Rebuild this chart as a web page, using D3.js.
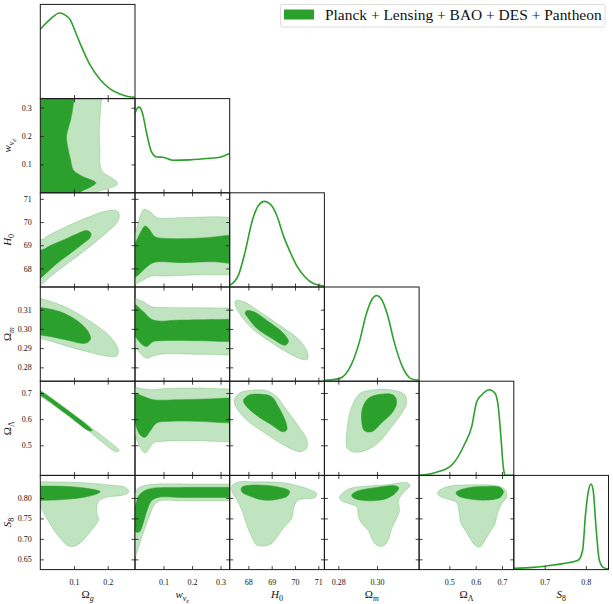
<!DOCTYPE html>
<head>
  <meta charset="utf-8">
  <script src="https://cdn.jsdelivr.net/npm/d3@7"></script>
</head>

<style>
  body { margin: 0; background: #fff; }
  text { font-family: "Liberation Serif", "DejaVu Serif", serif; fill: #111; }
</style>
<body>
<script>

// ---- parameters, axis domains and ticks
var params = ["omega_g", "w_nu", "H0", "omega_m", "omega_L", "S8"];
var ranges = [[0, 0.281], [0, 0.332], [67.2, 71.26], [0.2728, 0.3218], [0.385, 0.745], [0.625, 0.855]];
var xTicks = [[0.1, 0.2], [0.1, 0.2, 0.3], [68, 69, 70, 71], [0.28, 0.30], [0.5, 0.6, 0.7], [0.7, 0.8]];
var xTickText = [["0.1", "0.2"], ["0.1", "0.2", "0.3"], ["68", "69", "70", "71"], ["0.28", "0.30"], ["0.5", "0.6", "0.7"], ["0.7", "0.8"]];
var yTicks = [[], [0.1, 0.2, 0.3], [68, 69, 70, 71], [0.28, 0.29, 0.30, 0.31], [0.5, 0.6, 0.7], [0.65, 0.70, 0.75, 0.80]];
var yTickText = [[], ["0.1", "0.2", "0.3"], ["68", "69", "70", "71"], ["0.28", "0.29", "0.30", "0.31"], ["0.5", "0.6", "0.7"], ["0.65", "0.70", "0.75", "0.80"]];
var legendLabel = "Planck + Lensing + BAO + DES + Pantheon";

// ---- 1D marginals [value, density/max]
var margOg = [[0, 0.81], [0.029, 0.925], [0.057, 1.0], [0.074, 0.975], [0.089, 0.92], [0.104, 0.78], [0.118, 0.645], [0.148, 0.39], [0.178, 0.22], [0.208, 0.11], [0.238, 0.05], [0.26, 0.025], [0.281, 0.015]];
var margWnu = [[0, 0.928], [0.008, 0.99], [0.015, 1.0], [0.025, 0.944], [0.041, 0.693], [0.058, 0.477], [0.076, 0.418], [0.098, 0.415], [0.133, 0.38], [0.192, 0.385], [0.262, 0.403], [0.297, 0.415], [0.332, 0.458]];
var margH0 = [[67.2, 0.02], [67.57, 0.136], [67.86, 0.41], [68.15, 0.757], [68.43, 0.952], [68.69, 1.0], [68.93, 0.97], [69.22, 0.835], [69.5, 0.60], [69.79, 0.41], [70.07, 0.25], [70.43, 0.117], [70.79, 0.04], [71.26, 0.01]];
var margOm = [[0.2728, 0.01], [0.2805, 0.03], [0.2866, 0.187], [0.2909, 0.459], [0.2943, 0.77], [0.2977, 0.965], [0.2998, 1.0], [0.3021, 0.965], [0.3055, 0.77], [0.3089, 0.459], [0.3132, 0.167], [0.3176, 0.03], [0.3218, 0.01]];
var margOL = [[0.385, 0], [0.445, 0.032], [0.509, 0.121], [0.5595, 0.375], [0.585, 0.569], [0.604, 0.861], [0.623, 0.939], [0.652, 1.0], [0.6735, 0.959], [0.686, 0.80], [0.696, 0.452], [0.705, 0.10], [0.711, 0.005], [0.745, 0]];
var margS8 = [[0.625, 0.014], [0.672, 0.026], [0.721, 0.053], [0.745, 0.07], [0.781, 0.108], [0.7923, 0.229], [0.7987, 0.618], [0.8065, 0.925], [0.8125, 1.0], [0.8178, 0.925], [0.8246, 0.5], [0.8327, 0.112], [0.842, 0.026], [0.855, 0.006]];

// ---- 2D contours (68% inner, 95% outer), [x, y] in data units
var wnu_og_95 = [[-0.02, 0.35], [0.183, 0.35], [0.182, 0.332], [0.179, 0.295], [0.175, 0.200], [0.177, 0.151], [0.177, 0.102], [0.185, 0.073], [0.207, 0.056], [0.228, 0.038], [0.227, 0.028], [0.197, 0.013], [0.167, 0.001], [0.160, -0.02], [-0.02, -0.02]];
var wnu_og_68 = [[-0.02, 0.35], [0.101, 0.35], [0.100, 0.332], [0.096, 0.295], [0.090, 0.257], [0.078, 0.200], [0.083, 0.151], [0.090, 0.116], [0.098, 0.080], [0.123, 0.059], [0.165, 0.035], [0.148, 0.020], [0.118, 0.001], [0.112, -0.02], [-0.02, -0.02]];

var h0_og_95 = [[-0.027, 69.37], [0, 69.23], [0.0326, 69.49], [0.0722, 69.77], [0.1118, 70.03], [0.1513, 70.26], [0.1909, 70.46], [0.2156, 70.52], [0.2304, 70.45], [0.2344, 70.23], [0.2255, 69.94], [0.2008, 69.59], [0.1612, 69.11], [0.1216, 68.65], [0.0821, 68.22], [0.0425, 67.79], [0.0129, 67.43], [0, 67.24], [-0.027, 66.99]];
var h0_og_68 = [[-0.027, 68.94], [0, 68.79], [0.0326, 69.01], [0.0722, 69.25], [0.1118, 69.51], [0.1365, 69.63], [0.1493, 69.54], [0.1484, 69.34], [0.1216, 69.01], [0.092, 68.68], [0.0623, 68.36], [0.0326, 68.0], [0, 67.57], [-0.027, 67.29]];

var om_og_95 = [[-0.021, 0.3168], [0, 0.3159], [0.078, 0.3112], [0.157, 0.3029], [0.207, 0.2960], [0.231, 0.2894], [0.228, 0.2861], [0.207, 0.2856], [0.137, 0.2882], [0.058, 0.2922], [0, 0.2951], [-0.021, 0.2960]];
var om_og_68 = [[-0.021, 0.3116], [0, 0.3112], [0.058, 0.3090], [0.113, 0.3038], [0.142, 0.2986], [0.149, 0.2946], [0.133, 0.2925], [0.078, 0.2942], [0.029, 0.2960], [0, 0.2968], [-0.021, 0.2973]];

var oL_og_95 = [[-0.011, 0.7144], [0, 0.7093], [0.118, 0.5998], [0.2265, 0.4915], [0.234, 0.480], [0.2265, 0.475], [0.118, 0.5807], [0, 0.6864], [-0.011, 0.6915]];
var oL_og_68 = [[-0.011, 0.7106], [0, 0.7068], [0.078, 0.6367], [0.149, 0.5654], [0.154, 0.5564], [0.145, 0.5552], [0.078, 0.6189], [0, 0.6915], [-0.011, 0.6953]];

var s8_og_95 = [[-0.02, 0.8397], [0, 0.8397], [0.1277, 0.8373], [0.2068, 0.8316], [0.2513, 0.8259], [0.2632, 0.8153], [0.2464, 0.8071], [0.1969, 0.8015], [0.1722, 0.7909], [0.1673, 0.7665], [0.1722, 0.7461], [0.1524, 0.7217], [0.1227, 0.6932], [0.103, 0.6826], [0.0832, 0.6826], [0.0683, 0.6932], [0.0436, 0.7176], [0.0189, 0.7502], [0, 0.7787], [-0.02, 0.80]];
var s8_og_68 = [[-0.02, 0.829], [0, 0.829], [0.0782, 0.828], [0.1376, 0.8234], [0.178, 0.815], [0.1475, 0.8047], [0.0782, 0.7966], [0, 0.794], [-0.02, 0.794]];

var h0_wnu_95 = [[-0.01, 69.3], [0, 69.51], [0.0175, 70.23], [0.0315, 70.55], [0.0526, 70.45], [0.076, 70.20], [0.158, 70.19], [0.286, 70.23], [0.332, 70.20], [0.345, 70.2], [0.345, 67.72], [0.332, 67.72], [0.216, 67.72], [0.099, 67.67], [0.058, 67.67], [0.029, 67.50], [0, 67.29], [-0.01, 67.2]];
var h0_wnu_68 = [[-0.01, 68.9], [0, 69.08], [0.0175, 69.51], [0.035, 69.83], [0.047, 69.73], [0.070, 69.37], [0.099, 69.30], [0.216, 69.30], [0.286, 69.37], [0.332, 69.43], [0.345, 69.43], [0.345, 68.22], [0.332, 68.22], [0.275, 68.29], [0.158, 68.25], [0.099, 68.29], [0.064, 68.25], [0.035, 68.0], [0.0117, 67.72], [0, 67.62], [-0.01, 67.55]];

var om_wnu_95 = [[-0.01, 0.317], [0, 0.316], [0.029, 0.3142], [0.058, 0.3116], [0.099, 0.3112], [0.216, 0.3110], [0.332, 0.3109], [0.345, 0.3109], [0.345, 0.2864], [0.332, 0.2864], [0.216, 0.2868], [0.099, 0.2869], [0.064, 0.2859], [0.041, 0.2847], [0.0175, 0.2873], [0, 0.2908], [-0.01, 0.292]];
var om_wnu_68 = [[-0.01, 0.314], [0, 0.3130], [0.029, 0.3090], [0.064, 0.3046], [0.158, 0.3046], [0.332, 0.3050], [0.345, 0.305], [0.345, 0.2934], [0.332, 0.2934], [0.216, 0.2939], [0.099, 0.2939], [0.064, 0.2934], [0.041, 0.2908], [0.023, 0.2921], [0, 0.2960], [-0.01, 0.297]];

var oL_wnu_95 = [[-0.01, 0.722], [0, 0.7216], [0.0526, 0.7126], [0.099, 0.7165], [0.216, 0.7190], [0.332, 0.7152], [0.345, 0.715], [0.345, 0.5126], [0.332, 0.5126], [0.216, 0.5177], [0.099, 0.5152], [0.064, 0.5088], [0.047, 0.4833], [0.035, 0.4706], [0.023, 0.4833], [0.008, 0.5152], [0, 0.5407], [-0.01, 0.55]];
var oL_wnu_68 = [[-0.01, 0.70], [0, 0.6999], [0.029, 0.6872], [0.064, 0.6744], [0.158, 0.6744], [0.275, 0.6782], [0.332, 0.6808], [0.345, 0.681], [0.345, 0.5852], [0.332, 0.5852], [0.216, 0.5916], [0.123, 0.5916], [0.076, 0.5852], [0.0526, 0.5534], [0.035, 0.5305], [0.0175, 0.5407], [0.006, 0.5661], [0, 0.5852], [-0.01, 0.59]];

var s8_wnu_95 = [[-0.01, 0.80], [0, 0.8119], [0.0117, 0.8241], [0.035, 0.8306], [0.076, 0.8338], [0.216, 0.8338], [0.332, 0.8338], [0.345, 0.8338], [0.345, 0.7931], [0.332, 0.7931], [0.158, 0.7931], [0.088, 0.7931], [0.070, 0.785], [0.0526, 0.759], [0.035, 0.7264], [0.0175, 0.6898], [0, 0.6531], [-0.01, 0.635]];
var s8_wnu_68 = [[-0.01, 0.77], [0, 0.7793], [0.0117, 0.8037], [0.029, 0.8159], [0.058, 0.8233], [0.158, 0.8257], [0.332, 0.8257], [0.345, 0.8257], [0.345, 0.8013], [0.332, 0.8013], [0.158, 0.8013], [0.082, 0.8013], [0.058, 0.7931], [0.041, 0.7671], [0.027, 0.7345], [0.015, 0.7166], [0.0035, 0.7166], [0, 0.7223], [-0.01, 0.73]];

var om_h0_95 = [[67.457, 0.3147], [67.786, 0.3142], [68.43, 0.3095], [69.43, 0.3012], [70.22, 0.2939], [70.545, 0.2874], [70.53, 0.2842], [70.29, 0.2842], [69.79, 0.2870], [68.86, 0.2939], [68.07, 0.3012], [67.57, 0.3090], [67.43, 0.3130]];
var om_h0_68 = [[67.93, 0.3095], [68.215, 0.3090], [68.86, 0.3038], [69.50, 0.2977], [69.72, 0.2934], [69.57, 0.2915], [69.0, 0.2951], [68.36, 0.3003], [67.93, 0.3067], [67.86, 0.3082]];

var oL_h0_95 = [[67.40, 0.6731], [67.643, 0.7012], [68.286, 0.7114], [68.787, 0.7088], [69.216, 0.6859], [69.645, 0.6349], [70.145, 0.5738], [70.50, 0.5228], [70.50, 0.4884], [70.216, 0.4757], [69.645, 0.4948], [68.715, 0.5457], [67.93, 0.5967], [67.50, 0.6413]];
var oL_h0_68 = [[67.786, 0.6706], [68.03, 0.6923], [68.572, 0.6948], [69.0, 0.6859], [69.287, 0.6477], [69.60, 0.5904], [69.645, 0.5585], [69.46, 0.5521], [69.0, 0.5776], [68.43, 0.6094], [67.93, 0.6477]];

var s8_h0_95 = [[67.314, 0.8314], [67.643, 0.8395], [68.215, 0.8395], [69.50, 0.8371], [70.50, 0.8233], [70.93, 0.8110], [70.86, 0.8013], [70.145, 0.7948], [69.96, 0.7785], [69.86, 0.7500], [69.57, 0.7313], [69.29, 0.7093], [69.0, 0.6889], [68.644, 0.6824], [68.358, 0.6849], [68.14, 0.7052], [67.93, 0.7337], [67.715, 0.7703], [67.50, 0.7964], [67.286, 0.8176]];
var s8_h0_68 = [[67.715, 0.8257], [68.215, 0.8314], [69.216, 0.8273], [69.76, 0.8167], [69.673, 0.8045], [69.216, 0.7964], [68.644, 0.7948], [68.07, 0.8045], [67.715, 0.8151]];

var oL_om_95 = [[0.28436, 0.4912], [0.28488, 0.5840], [0.28729, 0.6540], [0.29126, 0.6986], [0.2973, 0.7114], [0.30765, 0.7114], [0.3142, 0.6948], [0.3154, 0.6630], [0.31282, 0.6222], [0.30765, 0.5712], [0.30075, 0.5101], [0.29385, 0.4795], [0.28781, 0.4744], [0.2852, 0.4846]];
var oL_om_68 = [[0.29212, 0.5904], [0.29247, 0.6413], [0.29557, 0.6795], [0.30161, 0.6948], [0.30851, 0.6923], [0.31023, 0.6630], [0.30765, 0.6222], [0.30247, 0.5865], [0.2973, 0.5521], [0.2935, 0.5559]];

var s8_om_95 = [[0.28056, 0.8013], [0.28522, 0.8216], [0.29471, 0.8290], [0.30333, 0.8314], [0.31541, 0.8371], [0.31713, 0.8298], [0.31403, 0.8151], [0.3111, 0.7931], [0.31161, 0.7687], [0.30989, 0.7476], [0.30765, 0.7256], [0.30592, 0.6987], [0.30368, 0.6841], [0.30075, 0.6824], [0.29816, 0.6930], [0.29557, 0.7199], [0.29212, 0.7378], [0.2904, 0.7541], [0.28953, 0.7785], [0.28522, 0.7866], [0.28177, 0.7931]];
var s8_om_68 = [[0.28695, 0.8070], [0.28988, 0.8167], [0.29988, 0.8257], [0.30937, 0.8298], [0.31127, 0.8249], [0.30937, 0.8110], [0.30506, 0.7988], [0.29816, 0.7931], [0.29126, 0.7948], [0.28747, 0.8013]];

var s8_oL_95 = [[0.4547, 0.8135], [0.4902, 0.8273], [0.5916, 0.8322], [0.6804, 0.8298], [0.7120, 0.8208], [0.7184, 0.8029], [0.6994, 0.7866], [0.6829, 0.7622], [0.6740, 0.7378], [0.6550, 0.7174], [0.636, 0.6971], [0.6170, 0.6808], [0.5980, 0.6841], [0.5789, 0.7012], [0.5599, 0.7215], [0.5434, 0.7394], [0.5371, 0.7622], [0.5282, 0.7883], [0.4902, 0.7980], [0.4623, 0.8045]];
var s8_oL_68 = [[0.5257, 0.8135], [0.5663, 0.8241], [0.6423, 0.8281], [0.6930, 0.8257], [0.7057, 0.8151], [0.6930, 0.8013], [0.6423, 0.7948], [0.5789, 0.7972], [0.5346, 0.8045]];

// ---- layout
var W = 613, H = 604;
var gridLeft = 40.3, gridTop = 4.4, cellW = 94.7, cellH = 94.2;
var green = "#2ca02c", lightGreen = "#c0e3c0";

var marginals = [margOg, margWnu, margH0, margOm, margOL, margS8];
var panels2d = [
  {row: 1, col: 0, c95: wnu_og_95, c68: wnu_og_68},
  {row: 2, col: 0, c95: h0_og_95, c68: h0_og_68},
  {row: 3, col: 0, c95: om_og_95, c68: om_og_68},
  {row: 4, col: 0, c95: oL_og_95, c68: oL_og_68},
  {row: 5, col: 0, c95: s8_og_95, c68: s8_og_68},
  {row: 2, col: 1, c95: h0_wnu_95, c68: h0_wnu_68},
  {row: 3, col: 1, c95: om_wnu_95, c68: om_wnu_68},
  {row: 4, col: 1, c95: oL_wnu_95, c68: oL_wnu_68},
  {row: 5, col: 1, c95: s8_wnu_95, c68: s8_wnu_68},
  {row: 3, col: 2, c95: om_h0_95, c68: om_h0_68},
  {row: 4, col: 2, c95: oL_h0_95, c68: oL_h0_68},
  {row: 5, col: 2, c95: s8_h0_95, c68: s8_h0_68},
  {row: 4, col: 3, c95: oL_om_95, c68: oL_om_68},
  {row: 5, col: 3, c95: s8_om_95, c68: s8_om_68},
  {row: 5, col: 4, c95: s8_oL_95, c68: s8_oL_68}
];

// label pieces: [text, level (0 base, 1 sub, 2 subsub), italic]
var axisLabels = [
  [["Ω", 0, 0], ["g", 1, 1]],
  [["w", 0, 1], ["ν", 1, 1], ["e", 2, 1]],
  [["H", 0, 1], ["0", 1, 0]],
  [["Ω", 0, 0], ["m", 1, 1]],
  [["Ω", 0, 0], ["Λ", 1, 0]],
  [["S", 0, 1], ["8", 1, 0]]
];

var svg = d3.select("body").append("svg")
    .attr("width", W)
    .attr("height", H);
var defs = svg.append("defs");

var xs = ranges.map(function(d) { return d3.scaleLinear().domain(d).range([0, cellW]); });
var ys = ranges.map(function(d) { return d3.scaleLinear().domain(d).range([cellH, 0]); });
var yMarg = d3.scaleLinear().domain([0, 1.1]).range([cellH, 0]);

function panelG(row, col) {
  return svg.append("g")
      .attr("transform", "translate(" + (gridLeft + col * cellW) + "," + (gridTop + row * cellH) + ")");
}

function styleAxis(sel) {
  sel.select(".domain").remove();
  sel.attr("color", "#111");
  sel.selectAll(".tick line").attr("stroke-width", 0.8);
  sel.selectAll("text")
      .attr("font-family", null)
      .style("font-size", "8px");
}

function xAxes(g, col, withTop, withLabels) {
  var bottom = d3.axisBottom(xs[col]).tickValues(xTicks[col])
      .tickSizeInner(-3.5).tickSizeOuter(0).tickPadding(9.6)
      .tickFormat(function(d, i) { return withLabels ? xTickText[col][i] : ""; });
  g.append("g").attr("transform", "translate(0," + cellH + ")").call(bottom).call(styleAxis);
  if (withTop) {
    g.append("g").call(d3.axisTop(xs[col]).tickValues(xTicks[col])
        .tickSizeInner(-3.5).tickSizeOuter(0).tickFormat("")).call(styleAxis);
  }
}

function yAxes(g, row, withLabels) {
  var left = d3.axisLeft(ys[row]).tickValues(yTicks[row])
      .tickSizeInner(-3.5).tickSizeOuter(0).tickPadding(8.5)
      .tickFormat(function(d, i) { return withLabels ? yTickText[row][i] : ""; });
  g.append("g").call(left).call(styleAxis);
  g.append("g").attr("transform", "translate(" + cellW + ",0)")
      .call(d3.axisRight(ys[row]).tickValues(yTicks[row])
        .tickSizeInner(-3.5).tickSizeOuter(0).tickFormat("")).call(styleAxis);
}

function frame(g) {
  g.append("rect")
      .attr("width", cellW)
      .attr("height", cellH)
      .attr("fill", "none")
      .attr("stroke", "#1a1a1a")
      .attr("stroke-width", 1);
}

// 2D panels
panels2d.forEach(function(p, i) {
  var g = panelG(p.row, p.col);
  defs.append("clipPath").attr("id", "clip2d" + i)
    .append("rect").attr("width", cellW).attr("height", cellH);

  var line = d3.line()
      .x(function(d) { return xs[p.col](d[0]); })
      .y(function(d) { return ys[p.row](d[1]); })
      .curve(d3.curveCatmullRomClosed.alpha(0.5));

  var cg = g.append("g").attr("clip-path", "url(#clip2d" + i + ")");
  cg.append("path")
      .attr("d", line(p.c95))
      .attr("fill", lightGreen)
      .attr("stroke", green)
      .attr("stroke-opacity", 0.3)
      .attr("stroke-width", 0.8);
  cg.append("path")
      .attr("d", line(p.c68))
      .attr("fill", green)
      .attr("stroke", green)
      .attr("stroke-width", 0.5);

  xAxes(g, p.col, true, p.row == 5);
  yAxes(g, p.row, p.col == 0);
  frame(g);
});

// 1D panels
marginals.forEach(function(m, i) {
  var g = panelG(i, i);
  defs.append("clipPath").attr("id", "clip1d" + i)
    .append("rect").attr("width", cellW).attr("height", cellH);

  var line = d3.line()
      .x(function(d) { return xs[i](d[0]); })
      .y(function(d) { return yMarg(d[1]); })
      .curve(d3.curveMonotoneX);

  g.append("path")
      .attr("clip-path", "url(#clip1d" + i + ")")
      .attr("d", line(m))
      .attr("fill", "none")
      .attr("stroke", green)
      .attr("stroke-width", 1.6);

  xAxes(g, i, false, i == 5);
  frame(g);
});

// axis labels
function addLabel(text, parts) {
  var prev = 0;
  parts.forEach(function(p) {
    var size = p[1] == 0 ? 11 : (p[1] == 1 ? 8 : 6.5);
    var shift = p[1] - prev;
    text.append("tspan")
        .attr("dy", shift * (p[1] == 2 ? 2 : 3))
        .style("font-size", size + "px")
        .style("font-style", p[2] ? "italic" : "normal")
        .text(p[0]);
    prev = p[1];
  });
}

axisLabels.forEach(function(parts, i) {
  var t = svg.append("text")
      .attr("x", gridLeft + (i + 0.5) * cellW)
      .attr("y", 598)
      .attr("text-anchor", "middle");
  addLabel(t, parts);
  if (i > 0) {
    var ty = svg.append("text")
        .attr("transform", "translate(11," + (gridTop + (i + 0.5) * cellH) + ") rotate(-90)")
        .attr("text-anchor", "middle");
    addLabel(ty, parts);
  }
});

// legend
var leg = svg.append("g");
leg.append("rect")
    .attr("x", 280.5).attr("y", 4.5)
    .attr("width", 324.5).attr("height", 22.5)
    .attr("rx", 2)
    .attr("fill", "#fff")
    .attr("stroke", "#d6d6d6")
    .attr("stroke-width", 0.8);
leg.append("rect")
    .attr("x", 284).attr("y", 9.5)
    .attr("width", 30).attr("height", 10)
    .attr("fill", green);
var lt = leg.append("text")
    .attr("x", 325).attr("y", 19.8)
    .style("font-size", "13px")
    .text(legendLabel);
var lw = lt.node().getComputedTextLength();
lt.style("font-size", (13 * 277 / lw) + "px");

</script>
</body>
